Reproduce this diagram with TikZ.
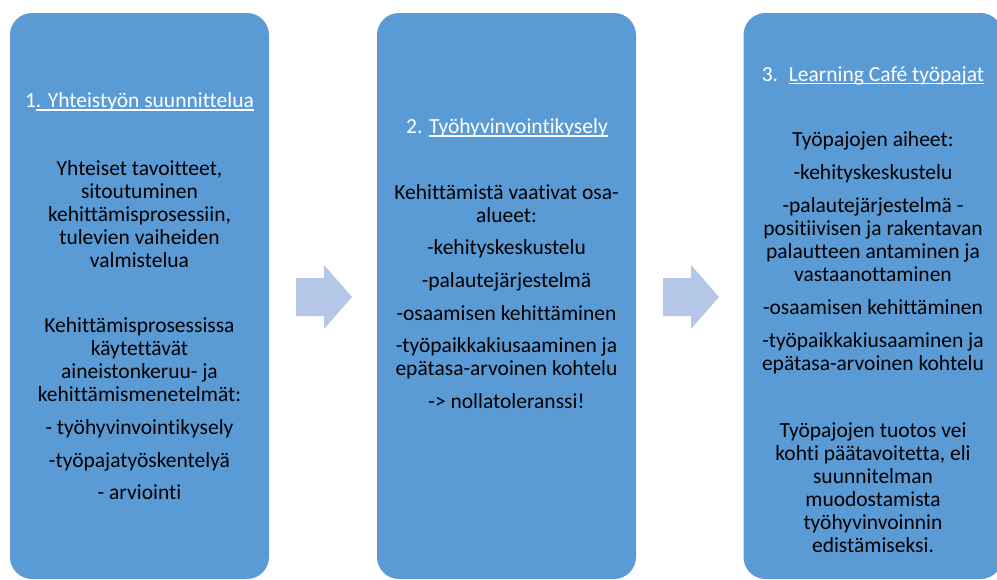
\documentclass[tikz,border=0pt]{standalone}
\usepackage{fontspec}
\setmainfont{Carlito}[Ligatures={NoCommon}]
\newsavebox{\myulbox}
\newcommand{\myul}[1]{\sbox{\myulbox}{#1}\rlap{\rule[-3pt]{\wd\myulbox}{1.1pt}}\usebox{\myulbox}}
\newcommand{\bodyfs}{\fontsize{21.5pt}{23pt}\selectfont}
\definecolor{boxblue}{RGB}{91,155,213}
\definecolor{arrowblue}{RGB}{180,199,231}
\begin{document}
\begin{tikzpicture}[x=1pt,y=-1pt,
  box/.style={fill=boxblue, draw=none, rounded corners=22pt, minimum width=259pt, minimum height=566pt, inner sep=0pt},
  ln/.style={font=\bodyfs, anchor=base, inner sep=0pt, text=black},
  ttl/.style={font=\bodyfs, anchor=base, inner sep=0pt, text=white},
  arr/.style={fill=arrowblue, draw=none}]
\useasboundingbox (0,0) rectangle (997,579);
% boxes
\node[box] (b1) at (139.5,296) {};
\node[box] (b2) at (506.5,296) {};
\node[box] (b3) at (873,296) {};
% arrows
\fill[arr] (296,278) -- (324,278) -- (324,265) -- (352,297) -- (324,329) -- (324,316) -- (296,316) -- cycle;
\fill[arr] (663,278) -- (691,278) -- (691,265) -- (719,297) -- (691,329) -- (691,316) -- (663,316) -- cycle;
% box 1
\node[ttl] (t1) at (139.5,107.5) {1\myul{. Yhteistyön suunnittelua}};
\node[ln] (p1a) at (139.5,175) {Yhteiset tavoitteet,};
\node[ln] (p1b) at (139.5,198) {sitoutuminen};
\node[ln] (p1c) at (139.5,221) {kehittämisprosessiin,};
\node[ln] (p1d) at (139.5,244) {tulevien vaiheiden};
\node[ln] (p1e) at (139.5,267) {valmistelua};
\node[ln] (q1a) at (139.5,332) {Kehittämisprosessissa};
\node[ln] (q1b) at (139.5,355) {käytettävät};
\node[ln] (q1c) at (139.5,378) {aineistonkeruu- ja};
\node[ln] (q1d) at (139.5,401) {kehittämismenetelmät:};
\node[ln] (r1a) at (139.5,434) {- työhyvinvointikysely};
\node[ln] (r1b) at (139.5,467) {-työpajatyöskentelyä};
\node[ln] (r1c) at (139.5,499) {- arviointi};
% box 2
\node[ttl] (t2) at (507,133.5) {2. \myul{Työhyvinvointikysely}};
\node[ln] (p2a) at (506.5,199.5) {Kehittämistä vaativat osa-};
\node[ln] (p2b) at (506.5,222.5) {alueet:};
\node[ln] (p2c) at (506.5,254) {-kehityskeskustelu};
\node[ln] (p2d) at (506.5,287.5) {-palautejärjestelmä};
\node[ln] (p2e) at (506.5,320) {-osaamisen kehittäminen};
\node[ln] (p2f) at (506.5,352.5) {-työpaikkakiusaaminen ja};
\node[ln] (p2g) at (506.5,375.5) {epätasa-arvoinen kohtelu};
\node[ln] (p2h) at (506.5,408) {-> nollatoleranssi!};
% box 3
\node[ttl] (t3) at (873,81) {3.\hspace{0.5em}\myul{Learning Café työpajat}};
\node[ln] (p3a) at (873,146) {Työpajojen aiheet:};
\node[ln] (p3b) at (873,179) {-kehityskeskustelu};
\node[ln] (p3c) at (873,212) {-palautejärjestelmä -};
\node[ln] (p3d) at (873,235) {positiivisen ja rakentavan};
\node[ln] (p3e) at (873,258) {palautteen antaminen ja};
\node[ln] (p3f) at (873,281) {vastaanottaminen};
\node[ln] (p3g) at (873,314) {-osaamisen kehittäminen};
\node[ln] (p3h) at (873,347) {-työpaikkakiusaaminen ja};
\node[ln] (p3i) at (873,370) {epätasa-arvoinen kohtelu};
\node[ln] (q3a) at (873,437) {Työpajojen tuotos vei};
\node[ln] (q3b) at (873,460) {kohti päätavoitetta, eli};
\node[ln] (q3c) at (873,483) {suunnitelman};
\node[ln] (q3d) at (873,506) {muodostamista};
\node[ln] (q3e) at (873,529) {työhyvinvoinnin};
\node[ln] (q3f) at (873,552) {edistämiseksi.};
\end{tikzpicture}
\end{document}
